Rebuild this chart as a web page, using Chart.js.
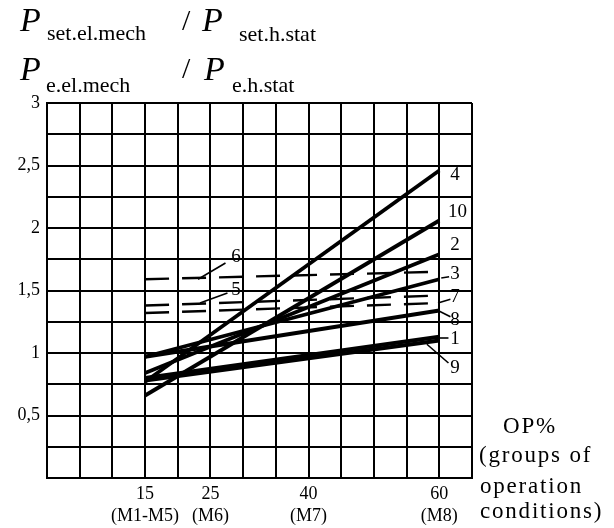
<!DOCTYPE html>
<html>
<head>
<meta charset="utf-8">
<script src="https://cdn.jsdelivr.net/npm/chart.js@4/dist/chart.umd.min.js"></script>
<style>
  html, body { margin: 0; padding: 0; background: #fff; }
  #grafico { display: block; }
</style>
</head>
<body>
<canvas id="grafico" width="614" height="528"></canvas>
<script>
// OP% at which every curve was read
var opPercent = [15, 60];

// power ratio curves
var curve1 = [0.80, 1.13];
var curve2 = [0.84, 1.79];
var curve3 = [0.97, 1.59];
var curve4 = [0.77, 2.46];
var curve5 = [1.38, 1.46];
var curve6 = [1.59, 1.65];
var curve7 = [1.32, 1.40];
var curve8 = [0.97, 1.34];
var curve9 = [0.78, 1.10];
var curve10 = [0.66, 2.06];

var xTickValues = [15, 25, 40, 60];
var xTickNumbers = ['15', '25', '40', '60'];
var xTickGroups = ['(M1-M5)', '(M6)', '(M7)', '(M8)'];
var yTickValues = [0.5, 1, 1.5, 2, 2.5, 3];
var yTickLabels = ['0,5', '1', '1,5', '2', '2,5', '3'];

var SERIF = '"Liberation Serif", "DejaVu Serif", serif';

// curve numbers with their leader lines, in data units
var curveTags = [
    { text: '4', at: [62.4, 2.42] },
    { text: '10', at: [62.8, 2.13] },
    { text: '2', at: [62.4, 1.86] },
    { text: '3', at: [62.4, 1.63], from: [60.3, 1.60], to: [61.5, 1.61] },
    { text: '7', at: [62.4, 1.45], from: [59.8, 1.40], to: [61.7, 1.43] },
    { text: '8', at: [62.4, 1.26], from: [59.8, 1.34], to: [61.7, 1.29] },
    { text: '1', at: [62.4, 1.11], from: [60.1, 1.12], to: [61.4, 1.12] },
    { text: '9', at: [62.4, 0.88], from: [58.1, 1.07], to: [61.4, 0.92] },
    { text: '6', at: [28.9, 1.77], from: [23.1, 1.59], to: [27.3, 1.72] },
    { text: '5', at: [28.9, 1.50], from: [23.4, 1.40], to: [27.6, 1.48] }
];

function serie(nome, valores, tracejada) {
    return {
        label: nome,
        data: valores.map(function (v, i) { return { x: opPercent[i], y: v }; }),
        borderColor: '#000',
        borderWidth: tracejada ? 2.4 : 3.8,
        borderDash: tracejada ? [24, 13] : [],
        borderCapStyle: 'butt',
        pointRadius: 0,
        fill: false,
        tension: 0
    };
}

var textos = {
    id: 'textos',
    afterDraw: function (chart) {
        var ctx = chart.ctx;
        var sx = chart.scales.x;
        var sy = chart.scales.y;
        ctx.save();
        ctx.fillStyle = '#000';
        ctx.strokeStyle = '#000';
        ctx.textBaseline = 'alphabetic';
        ctx.textAlign = 'left';

        // y axis title, two rows
        ctx.font = 'italic 34px ' + SERIF;
        ctx.fillText('P', 20, 31);
        ctx.fillText('P', 20, 80);
        ctx.fillText('P', 202, 31);
        ctx.fillText('P', 204, 80);
        ctx.font = '30px ' + SERIF;
        ctx.fillText('/', 182, 30);
        ctx.fillText('/', 182, 78);
        ctx.font = '22px ' + SERIF;
        ctx.fillText('set.el.mech', 47, 40);
        ctx.fillText('set.h.stat', 239, 41);
        ctx.fillText('e.el.mech', 46, 92);
        ctx.fillText('e.h.stat', 232, 92);

        // x axis title at the right
        ctx.font = '23px ' + SERIF;
        try { ctx.letterSpacing = '1.8px'; } catch (e) {}
        ctx.fillText('OP%', 503, 433);
        ctx.fillText('(groups of', 479, 462);
        ctx.fillText('operation', 480, 493);
        ctx.fillText('conditions)', 480, 518);
        try { ctx.letterSpacing = '0px'; } catch (e) {}

        // curve numbers
        ctx.font = '19px ' + SERIF;
        ctx.textAlign = 'center';
        ctx.textBaseline = 'middle';
        ctx.lineWidth = 1.6;
        curveTags.forEach(function (t) {
            ctx.fillText(t.text, sx.getPixelForValue(t.at[0]), sy.getPixelForValue(t.at[1]));
            if (t.from) {
                ctx.beginPath();
                ctx.moveTo(sx.getPixelForValue(t.from[0]), sy.getPixelForValue(t.from[1]));
                ctx.lineTo(sx.getPixelForValue(t.to[0]), sy.getPixelForValue(t.to[1]));
                ctx.stroke();
            }
        });
        ctx.restore();
    }
};

var $grafico = document.getElementById('grafico');

new Chart($grafico, {
    type: 'line',
    data: {
        datasets: [
            serie('1', curve1), serie('2', curve2), serie('3', curve3),
            serie('4', curve4), serie('5', curve5, true), serie('6', curve6, true),
            serie('7', curve7, true), serie('8', curve8), serie('9', curve9),
            serie('10', curve10)
        ]
    },
    options: {
        responsive: false,
        animation: false,
        layout: { padding: { top: 103, right: 142, left: 0, bottom: 0 } },
        plugins: {
            legend: { display: false },
            tooltip: { enabled: false }
        },
        scales: {
            x: {
                type: 'linear',
                min: 0,
                max: 65,
                border: { display: true, color: '#000', width: 2 },
                grid: { color: '#000', lineWidth: 2, drawTicks: false },
                ticks: {
                    stepSize: 5,
                    autoSkip: false,
                    maxRotation: 0,
                    padding: 5,
                    color: '#000',
                    font: { family: SERIF, size: 18, lineHeight: 1.25 },
                    callback: function (v) {
                        var i = xTickValues.indexOf(v);
                        return i >= 0 ? [xTickNumbers[i], xTickGroups[i]] : '';
                    }
                },
                afterFit: function (s) { s.height = 50; }
            },
            y: {
                type: 'linear',
                min: 0,
                max: 3,
                border: { display: true, color: '#000', width: 2 },
                grid: { color: '#000', lineWidth: 2, drawTicks: false },
                ticks: {
                    stepSize: 0.25,
                    autoSkip: false,
                    padding: 7,
                    color: '#000',
                    font: { family: SERIF, size: 18 },
                    callback: function (v) {
                        var i = yTickValues.indexOf(v);
                        return i >= 0 ? yTickLabels[i] : '';
                    }
                },
                afterFit: function (s) { s.width = 47; }
            }
        }
    },
    plugins: [textos]
});
</script>
</body>
</html>
